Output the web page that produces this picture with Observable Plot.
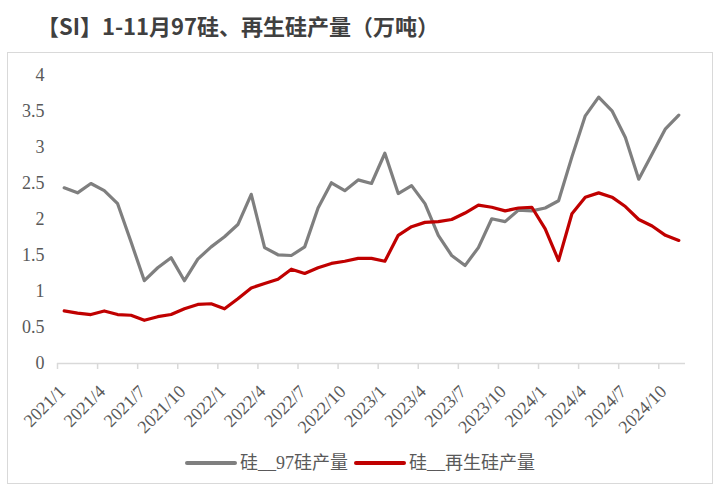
<!DOCTYPE html>
<html><head><meta charset="utf-8">
<script src="https://cdn.jsdelivr.net/npm/d3@7"></script>
<script src="https://cdn.jsdelivr.net/npm/@observablehq/plot@0.6"></script>
<style>
body{margin:0;background:#fff;}
#wrap{position:relative;width:721px;height:490px;overflow:hidden;background:#fff;}
#title{position:absolute;left:37px;top:10px;font-weight:bold;font-size:22px;font-family:"Noto Sans CJK SC",sans-serif;color:#404040;white-space:nowrap;line-height:30px;}
#frame{position:absolute;left:7px;top:52px;width:706px;height:432px;border:1.5px solid #d9d9d9;box-sizing:border-box;}
#chart{position:absolute;left:0;top:52px;}
#legend{position:absolute;left:185px;top:451px;display:flex;align-items:center;font-family:"Liberation Serif","Noto Sans CJK SC",serif;font-size:18px;color:#595959;white-space:nowrap;line-height:24px;}
.sw{display:inline-block;width:52px;height:4px;border-radius:2px;margin-right:3px;}
.item{display:flex;align-items:center;margin-right:6px;}
</style></head>
<body>
<div id="wrap">
  <div id="title">【SI】1-11月97硅、再生硅产量（万吨）</div>
  <div id="frame"></div>
  <div id="chart"></div>
  <div id="legend"></div>
</div>
<script>
const months = ["2021/1","2021/2","2021/3","2021/4","2021/5","2021/6","2021/7","2021/8","2021/9","2021/10","2021/11","2021/12",
"2022/1","2022/2","2022/3","2022/4","2022/5","2022/6","2022/7","2022/8","2022/9","2022/10","2022/11","2022/12",
"2023/1","2023/2","2023/3","2023/4","2023/5","2023/6","2023/7","2023/8","2023/9","2023/10","2023/11","2023/12",
"2024/1","2024/2","2024/3","2024/4","2024/5","2024/6","2024/7","2024/8","2024/9","2024/10","2024/11"];
const si97 = [2.44,2.37,2.50,2.40,2.22,1.69,1.15,1.33,1.47,1.15,1.45,1.62,
1.76,1.93,2.35,1.61,1.51,1.50,1.62,2.16,2.51,2.40,2.55,2.50,
2.92,2.36,2.47,2.22,1.78,1.50,1.36,1.61,2.01,1.97,2.13,2.12,
2.16,2.26,2.87,3.44,3.70,3.51,3.14,2.56,2.91,3.26,3.45];
const recycled = [0.73,0.70,0.68,0.73,0.68,0.67,0.60,0.65,0.68,0.76,0.82,0.83,
0.76,0.90,1.05,1.11,1.17,1.31,1.25,1.33,1.39,1.42,1.46,1.46,
1.42,1.78,1.90,1.96,1.97,2.00,2.09,2.20,2.17,2.12,2.16,2.17,
1.87,1.43,2.08,2.31,2.37,2.31,2.18,2.00,1.91,1.78,1.71];
const yTicks = [0,0.5,1,1.5,2,2.5,3,3.5,4];
const xLabelIdx = [0,3,6,9,12,15,18,21,24,27,30,33,36,39,42,45];
const seriesNames = ["硅__97硅产量","硅__再生硅产量"];
const seriesColors = ["#7f7f7f","#c00000"];

const data = months.map((m,i)=>({m, i, a: si97[i], b: recycled[i]}));

const chart = Plot.plot({
  width:721, height:390,
  marginTop:23, marginBottom:79, marginLeft:57, marginRight:36,
  x:{type:"linear", domain:[0, months.length], axis:null},
  y:{domain:[0,4], axis:null},
  style:{background:"transparent", fontFamily:"Liberation Serif, serif"},
  marks:[
    Plot.ruleY([0],{stroke:"#d9d9d9", strokeWidth:1.5}),
    Plot.ruleX(xLabelIdx,{x:d=>d, y1:0, y2:0, insetBottom:-6, stroke:"#d9d9d9", strokeWidth:1.5}),
    Plot.text(yTicks,{y:d=>d, frameAnchor:"left", dx:-13, textAnchor:"end", text:d=>String(d), fontSize:18, fill:"#595959"}),
    Plot.text(xLabelIdx,{x:d=>d+0.5, frameAnchor:"bottom", text:d=>months[d], rotate:-45, textAnchor:"end", lineAnchor:"middle", dx:-2, dy:25, fontSize:18, fill:"#595959"}),
    Plot.line(data,{x:d=>d.i+0.5, y:"a", stroke:seriesColors[0], strokeWidth:3.2, strokeLinejoin:"round"}),
    Plot.line(data,{x:d=>d.i+0.5, y:"b", stroke:seriesColors[1], strokeWidth:3.2, strokeLinejoin:"round"})
  ]
});
document.getElementById("chart").appendChild(chart);

const lg = document.getElementById("legend");
seriesNames.forEach((n,k)=>{
  const it = document.createElement("span"); it.className="item";
  const sw = document.createElement("span"); sw.className="sw"; sw.style.background=seriesColors[k];
  const tx = document.createElement("span"); tx.textContent=n;
  it.appendChild(sw); it.appendChild(tx); lg.appendChild(it);
});
</script>
</body></html>
